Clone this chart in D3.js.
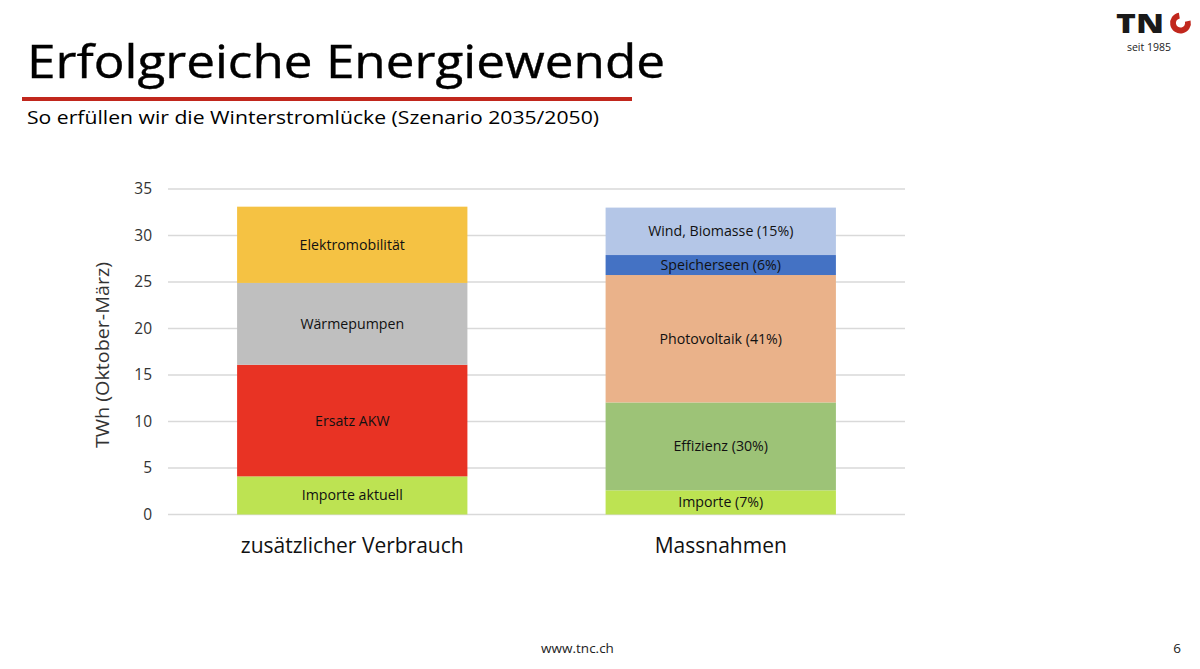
<!DOCTYPE html>
<html>
<head>
<meta charset="utf-8">
<script src="https://cdn.jsdelivr.net/npm/d3@7"></script>
<style>
  html, body { margin: 0; padding: 0; background: #ffffff; }
  svg { display: block; font-family: "Open Sans", "Noto Sans", sans-serif; }
</style>
</head>
<body>
<svg id="chart" width="1200" height="669"></svg>
<script>
// ---------- data ----------
const categories = ["zusätzlicher Verbrauch", "Massnahmen"];
const verbrauchLabels = ["Importe aktuell", "Ersatz AKW", "Wärmepumpen", "Elektromobilität"];
const verbrauchValues = [4.1, 12.0, 8.8, 8.2];
const massnahmenLabels = ["Importe (7%)", "Effizienz (30%)", "Photovoltaik (41%)", "Speicherseen (6%)", "Wind, Biomasse (15%)"];
const massnahmenValues = [2.6, 9.45, 13.7, 2.15, 5.1];
const yTicks = [0, 5, 10, 15, 20, 25, 30, 35];
const yTitle = "TWh (Oktober-März)";
const titleText = "Erfolgreiche Energiewende";
const subtitleText = "So erfüllen wir die Winterstromlücke (Szenario 2035/2050)";
const footerText = "www.tnc.ch";
const pageNumber = "6";

// ---------- styles ----------
const verbrauchColors = ["#bde352", "#e83324", "#bfbfbf", "#f5c243"];
const massnahmenColors = ["#bde352", "#9dc377", "#eab28a", "#4472c4", "#b4c6e7"];

const svg = d3.select("#chart");

// ---------- header ----------
svg.append("text")
  .attr("x", 27).attr("y", 78)
  .attr("font-size", 46).attr("fill", "#000")
  .attr("stroke", "#000").attr("stroke-width", 0.4)
  .attr("textLength", 638).attr("lengthAdjust", "spacingAndGlyphs")
  .text(titleText);

svg.append("rect")
  .attr("x", 22).attr("y", 97).attr("width", 610).attr("height", 4)
  .attr("fill", "#c1271d");

svg.append("text")
  .attr("x", 27).attr("y", 124)
  .attr("font-size", 17.5).attr("fill", "#000")
  .attr("textLength", 572).attr("lengthAdjust", "spacingAndGlyphs")
  .text(subtitleText);

// logo
svg.append("text")
  .attr("x", 1116).attr("y", 32.5)
  .attr("font-size", 27).attr("font-weight", 800).attr("fill", "#1a1a1a")
  .attr("textLength", 48).attr("lengthAdjust", "spacingAndGlyphs")
  .text("TN");
svg.append("path")
  .attr("transform", "translate(1180.5,23)")
  .attr("d", d3.arc().innerRadius(4.6).outerRadius(10.4).startAngle(Math.PI * 0.42).endAngle(Math.PI * 1.95)())
  .attr("fill", "#c1271d");
svg.append("text")
  .attr("x", 1149).attr("y", 51).attr("text-anchor", "middle")
  .attr("font-size", 10.5).attr("fill", "#222")
  .text("seit 1985");

// footer
svg.append("text")
  .attr("x", 577.5).attr("y", 653).attr("text-anchor", "middle")
  .attr("font-size", 13.5).attr("fill", "#222")
  .text(footerText);
svg.append("text")
  .attr("x", 1177).attr("y", 653).attr("text-anchor", "middle")
  .attr("font-size", 13.5).attr("fill", "#222")
  .text(pageNumber);

// ---------- chart ----------
const plotLeft = 168, plotRight = 905;
const y = d3.scaleLinear().domain([0, 35]).range([514.5, 189]);
const x = d3.scaleBand().domain(categories).range([plotLeft, plotRight])
  .paddingInner(0.375).paddingOuter(0.1875);

// gridlines
svg.append("g").selectAll("line").data(yTicks).join("line")
  .attr("x1", plotLeft).attr("x2", plotRight)
  .attr("y1", d => y(d)).attr("y2", d => y(d))
  .attr("stroke", "#d9d9d9").attr("stroke-width", 1.3);

// y axis labels
const yAxis = d3.axisLeft(y).tickValues(yTicks).tickSize(0).tickPadding(0);
const yAxisG = svg.append("g").attr("transform", "translate(152,0)").call(yAxis);
yAxisG.select(".domain").remove();
yAxisG.selectAll("text")
  .attr("font-family", "'Open Sans', sans-serif")
  .attr("font-size", 15.5).attr("fill", "#333");

// y title
svg.append("text")
  .attr("transform", "translate(109,355) rotate(-90)")
  .attr("text-anchor", "middle")
  .attr("font-size", 18).attr("fill", "#333")
  .attr("textLength", 186).attr("lengthAdjust", "spacingAndGlyphs")
  .text(yTitle);

// stacked segments
function segments(labels, values, colors) {
  const ends = Array.from(d3.cumsum(values));
  return values.map((v, i) => ({ label: labels[i], y0: ends[i] - v, y1: ends[i], color: colors[i] }));
}
const stacks = [
  { cat: categories[0], segs: segments(verbrauchLabels, verbrauchValues, verbrauchColors) },
  { cat: categories[1], segs: segments(massnahmenLabels, massnahmenValues, massnahmenColors) }
];

const barG = svg.append("g").selectAll("g").data(stacks).join("g");
barG.selectAll("rect").data(d => d.segs.map(s => ({ ...s, cat: d.cat }))).join("rect")
  .attr("x", d => x(d.cat)).attr("width", x.bandwidth())
  .attr("y", d => y(d.y1)).attr("height", d => y(d.y0) - y(d.y1))
  .attr("fill", d => d.color);

barG.selectAll("text").data(d => d.segs.map(s => ({ ...s, cat: d.cat }))).join("text")
  .attr("x", d => x(d.cat) + x.bandwidth() / 2)
  .attr("y", d => (y(d.y0) + y(d.y1)) / 2)
  .attr("dy", "0.35em")
  .attr("text-anchor", "middle")
  .attr("font-size", 14.2).attr("fill", "#111")
  .text(d => d.label);

// category labels
svg.append("g").selectAll("text").data(categories).join("text")
  .attr("x", d => x(d) + x.bandwidth() / 2)
  .attr("y", 553)
  .attr("text-anchor", "middle")
  .attr("font-size", 21).attr("fill", "#111")
  .text(d => d);
</script>
</body>
</html>
